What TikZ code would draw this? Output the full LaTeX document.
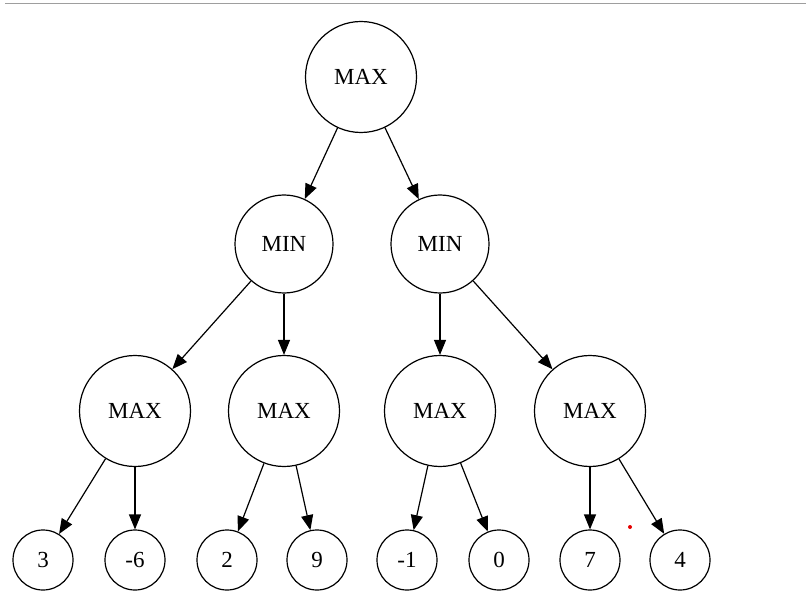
\documentclass[tikz,border=0pt]{standalone}
\usepackage{fontspec}
\setmainfont{Liberation Serif}
\usetikzlibrary{arrows.meta}
\begin{document}
\begin{tikzpicture}[x=1pt,y=-1pt,
  state/.style={circle,draw,line width=1.2pt,inner sep=0pt,
    font=\fontsize{23}{27}\selectfont},
  bignode/.style={state,minimum size=111pt},
  midnode/.style={state,minimum size=98pt},
  leaf/.style={state,minimum size=60pt},
  edge/.style={line width=1.2pt,-{Triangle[length=15pt,width=12pt]}}]
\useasboundingbox (0,0) rectangle (806,596);
% rule across the top
\draw[line width=1.5pt,color=black!38] (5,3.5) -- (806,3.5);

% root
\node[bignode] (root) at (361,77) {MAX};
% MIN level
\node[midnode] (minL) at (284,244) {MIN};
\node[midnode] (minR) at (440,244) {MIN};
% MAX level
\node[bignode] (maxA) at (135,411) {MAX};
\node[bignode] (maxB) at (284,411) {MAX};
\node[bignode] (maxC) at (440,411) {MAX};
\node[bignode] (maxD) at (590,411) {MAX};
% leaves
\node[leaf] (l1) at (43,560) {3};
\node[leaf] (l2) at (135,560) {-6};
\node[leaf] (l3) at (227,560) {2};
\node[leaf] (l4) at (317,560) {9};
\node[leaf] (l5) at (407,560) {-1};
\node[leaf] (l6) at (499,560) {0};
\node[leaf] (l7) at (590,560) {7};
\node[leaf] (l8) at (680,560) {4};

% small red mark
\fill[red!90!black] (630,527) circle (2pt);

% edges
\draw[edge] (root) -- (minL);
\draw[edge] (root) -- (minR);
\draw[edge] (minL) -- (maxA);
\draw[edge] (minL) -- (maxB);
\draw[edge] (minR) -- (maxC);
\draw[edge] (minR) -- (maxD);
\draw[edge] (maxA) -- (l1);
\draw[edge] (maxA) -- (l2);
\draw[edge] (maxB) -- (l3);
\draw[edge] (maxB) -- (l4);
\draw[edge] (maxC) -- (l5);
\draw[edge] (maxC) -- (l6);
\draw[edge] (maxD) -- (l7);
\draw[edge] (maxD) -- (l8);
\end{tikzpicture}
\end{document}
